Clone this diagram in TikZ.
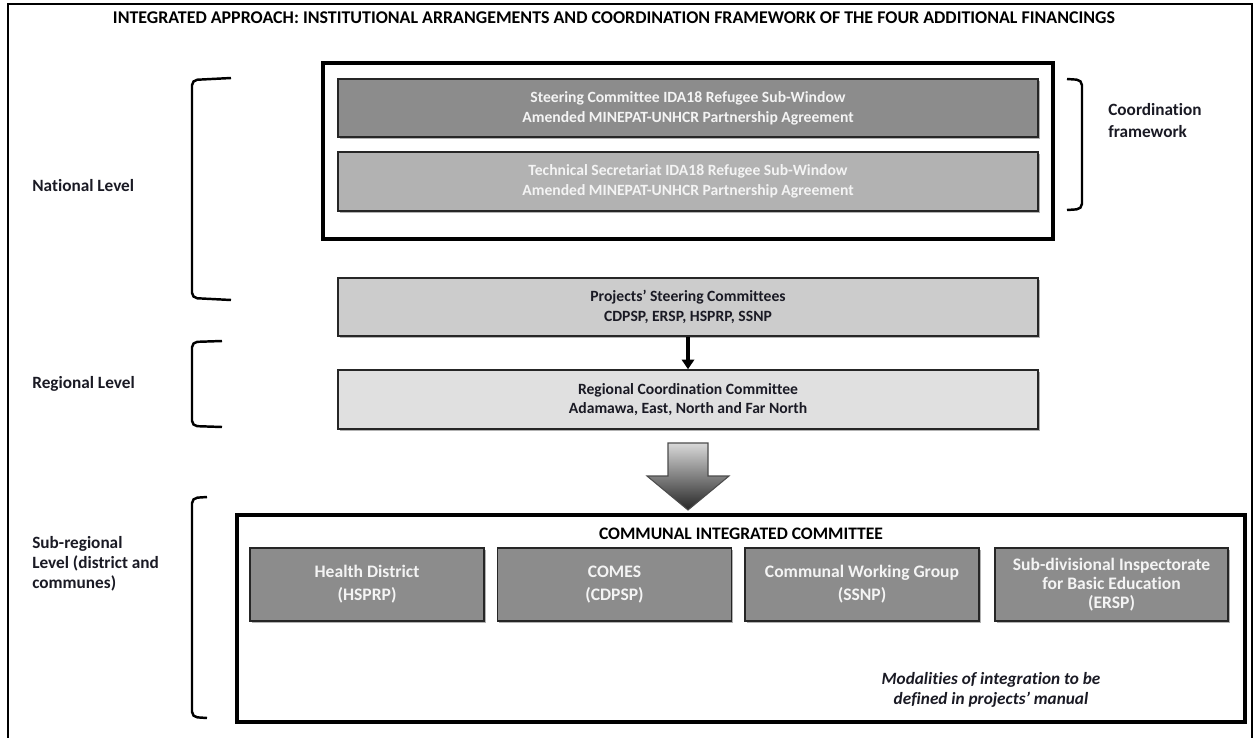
\documentclass[tikz,border=0pt]{standalone}
\usepackage{fontspec}
\setmainfont{Carlito}[Ligatures=NoCommon]
\usetikzlibrary{shadows,arrows.meta}
\definecolor{dkbox}{HTML}{8C8C8C}
\definecolor{mdbox}{HTML}{B2B2B2}
\definecolor{ltbox}{HTML}{CCCCCC}
\definecolor{vlbox}{HTML}{E0E0E0}
\definecolor{edge}{HTML}{262626}
\definecolor{ink}{HTML}{1A1A24}
\definecolor{wtxt}{HTML}{F4F4F4}
\tikzset{
  x=0.02cm, y=-0.02cm,
  box/.style={draw=edge, line width=0.9pt, align=center, inner sep=0pt,
    font=\bfseries\fontsize{8.9}{11.3}\selectfont,
    drop shadow={shadow xshift=0.9pt, shadow yshift=-0.9pt, opacity=0.3, fill=black}},
  darkbox/.style={box, fill=dkbox, text=wtxt},
  midbox/.style={box, fill=mdbox, text=wtxt},
  lightbox/.style={box, fill=ltbox, text=ink},
  vlightbox/.style={box, fill=vlbox, text=ink},
  unitbox/.style={darkbox, minimum width=4.68cm, minimum height=1.46cm,
    font=\bfseries\fontsize{10}{13}\selectfont},
  frame/.style={draw=black, line width=2.3pt, inner sep=0pt},
  lbl/.style={text=ink, align=left, inner sep=0pt, anchor=west,
    font=\bfseries\fontsize{9.8}{11.5}\selectfont},
  brk/.style={line width=1.4pt, rounded corners=3pt, draw=black},
}
\begin{document}
\begin{tikzpicture}
\useasboundingbox (0,0) rectangle (1254,737);
\fill[white] (0,0) rectangle (1254,737);
% outer frame
\draw[line width=1.2pt] (8,740) -- (8,4) -- (1252,4) -- (1252,740);
% title
\node[inner sep=0pt, text=black, font=\bfseries\fontsize{10.2}{12}\selectfont] (title) at (614,18)
  {INTEGRATED APPROACH: INSTITUTIONAL ARRANGEMENTS AND COORDINATION FRAMEWORK OF THE FOUR ADDITIONAL FINANCINGS};
% coordination framework frame
\node[frame, minimum width=14.6cm, minimum height=3.52cm] (coordframe) at (688,151) {};
\node[darkbox, minimum width=14cm, minimum height=1.16cm] (steer) at (688,108)
  {Steering Committee IDA18 Refugee Sub-Window\\Amended MINEPAT-UNHCR Partnership Agreement};
\node[midbox, minimum width=14cm, minimum height=1.18cm] (tech) at (688,181.5)
  {Technical Secretariat IDA18 Refugee Sub-Window\\Amended MINEPAT-UNHCR Partnership Agreement};
% projects and regional
\node[lightbox, minimum width=14cm, minimum height=1.16cm] (proj) at (688,307)
  {Projects' Steering Committees\\CDPSP, ERSP, HSPRP, SSNP};
\node[vlightbox, minimum width=14cm, minimum height=1.18cm] (reg) at (688,399.5)
  {Regional Coordination Committee\\Adamawa, East, North and Far North};
\draw[line width=1.8pt, -{Triangle[width=7pt,length=5.5pt]}] (proj.south) -- (reg.north);
% big block arrow
\coordinate (bigtip) at (688,510);
\shadedraw[draw=black!70, line width=0.6pt, top color=black!15, bottom color=black!85]
  (668,443) -- (708,443) -- (708,476) -- (729,476) -- (bigtip) -- (647,476) -- (668,476) -- cycle;
% communal integrated committee
\node[frame, minimum width=20.16cm, minimum height=4.14cm] (comm) at (741,618.5) {};
\node[inner sep=0pt, text=black, font=\bfseries\fontsize{10}{12}\selectfont] (commtitle) at (741,534)
  {COMMUNAL INTEGRATED COMMITTEE};
\node[unitbox] (health) at (367,584.5) {Health District\\(HSPRP)};
\node[unitbox] (comes) at (614.5,584.5) {COMES\\(CDPSP)};
\node[unitbox] (cwg) at (862,584.5) {Communal Working Group\\(SSNP)};
\node[unitbox, minimum width=4.66cm, font=\bfseries\fontsize{10}{11}\selectfont] (ersp) at (1111.5,584.5)
  {Sub-divisional Inspectorate\\for Basic Education\\(ERSP)};
\node[inner sep=0pt, text=ink, align=center, font=\bfseries\itshape\fontsize{9.8}{11.5}\selectfont] (modal) at (991,690)
  {Modalities of integration to be\\defined in projects' manual};
% brackets
\draw[brk] (231,78) -- (192,80) -- (192,298) -- (231,300);
\draw[brk] (222,341) -- (192,342) -- (192,426) -- (222,427);
\draw[brk] (207,497) -- (192,498) -- (192,717) -- (207,718);
\draw[brk] (1067,79) -- (1082,80) -- (1082,209) -- (1067,210);
% labels
\node[lbl] (national) at (32,186) {National Level};
\node[lbl] (regional) at (32,384) {Regional Level};
\node[lbl] (subreg) at (32,564) {Sub-regional\\Level (district and\\communes)};
\node[lbl, font=\bfseries\fontsize{9.8}{12.5}\selectfont] (coordlbl) at (1108,121) {Coordination\\framework};
\end{tikzpicture}
\end{document}
